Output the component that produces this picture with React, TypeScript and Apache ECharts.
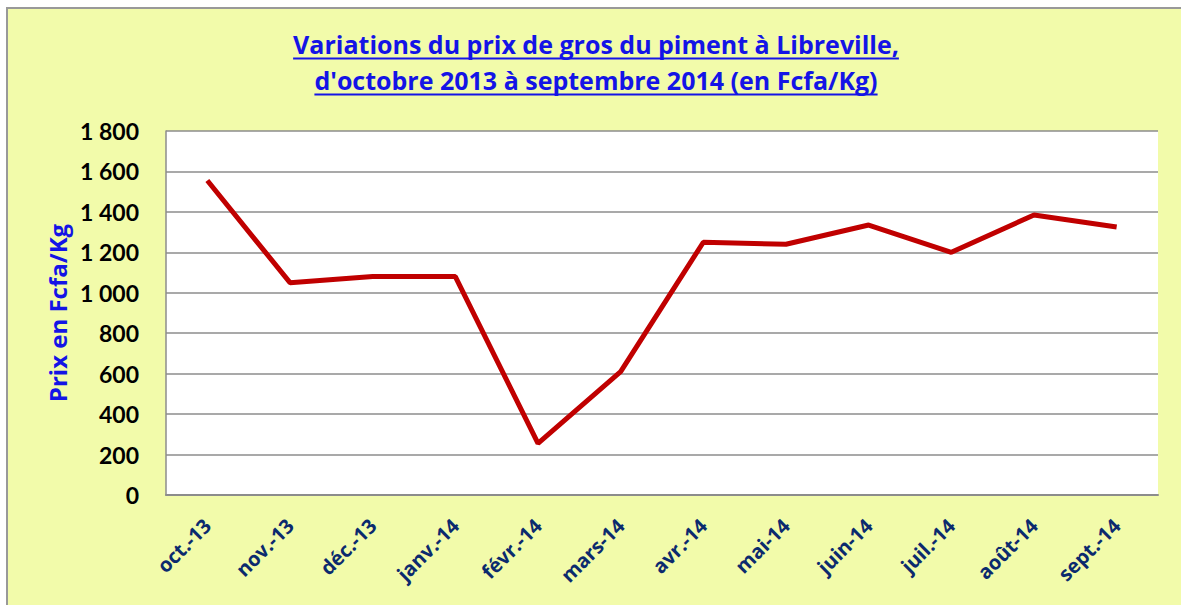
import React, { useEffect, useRef } from "react";
import * as echarts from "echarts";

const categories = ["oct.-13", "nov.-13", "déc.-13", "janv.-14", "févr.-14", "mars-14", "avr.-14", "mai-14", "juin-14", "juil.-14", "août-14", "sept.-14"];
const prices = [1555, 1050, 1080, 1080, 255, 610, 1250, 1240, 1335, 1200, 1385, 1325];
const titleLines = ["Variations du prix de gros du piment à Libreville,", "d'octobre 2013 à septembre 2014 (en Fcfa/Kg)"];
const yAxisName = "Prix en Fcfa/Kg";
const yMin = 0;
const yMax = 1800;
const yStep = 200;

const W = 1181;
const H = 605;
const TITLE_FONT = "bold 25px 'Open Sans'";
const TITLE_COLOR = "#1414E6";

function measure(text: string, font: string): number {
  const c = document.createElement("canvas");
  const ctx = c.getContext("2d");
  if (!ctx) return text.length * 12;
  ctx.font = font;
  return ctx.measureText(text).width;
}

export default function App() {
  const ref = useRef<HTMLDivElement>(null);

  useEffect(() => {
    document.body.style.margin = "0";
    if (!ref.current) return;
    const chart = echarts.init(ref.current, null, { renderer: "svg" });

    const cx = 596;
    const lineYs = [44, 80];
    const graphics: any[] = [];
    titleLines.forEach((t, i) => {
      const w = measure(t, TITLE_FONT);
      graphics.push({
        type: "text",
        x: cx,
        y: lineYs[i],
        style: {
          text: t,
          font: TITLE_FONT,
          fill: TITLE_COLOR,
          align: "center",
          verticalAlign: "middle",
        },
      });
      graphics.push({
        type: "line",
        shape: { x1: cx - w / 2, y1: lineYs[i] + 14.5, x2: cx + w / 2, y2: lineYs[i] + 14.5 },
        style: { stroke: TITLE_COLOR, lineWidth: 2 },
      });
    });

    chart.setOption({
      animation: false,
      backgroundColor: "transparent",
      graphic: graphics,
      grid: {
        left: 166,
        right: 23,
        top: 131,
        bottom: 110,
        show: true,
        backgroundColor: "#ffffff",
        borderWidth: 0,
      },
      xAxis: {
        type: "category",
        data: categories,
        boundaryGap: true,
        axisLine: { show: true, lineStyle: { color: "#8c8c8c", width: 2 } },
        axisTick: { show: false },
        axisLabel: {
          rotate: 45,
          margin: 27,
          color: "#0B2A6E",
          fontFamily: "Open Sans",
          fontWeight: "bold",
          fontSize: 20,
          interval: 0,
        },
      },
      yAxis: {
        type: "value",
        min: yMin,
        max: yMax,
        interval: yStep,
        name: yAxisName,
        nameLocation: "middle",
        nameGap: 95,
        nameRotate: 90,
        nameTextStyle: {
          color: "#1414E6",
          fontFamily: "Open Sans",
          fontWeight: "bold",
          fontSize: 24,
        },
        axisLine: { show: true, lineStyle: { color: "#8c8c8c", width: 1.5 } },
        axisTick: { show: false },
        splitLine: { show: true, lineStyle: { color: "#8c8c8c", width: 1.5 } },
        axisLabel: {
          margin: 27,
          color: "#000000",
          fontFamily: "Lato",
          fontWeight: "bold",
          fontSize: 23,
          formatter: (v: number) => String(v).replace(/\B(?=(\d{3})+(?!\d))/g, " "),
        },
      },
      series: [
        {
          type: "line",
          data: prices,
          symbol: "none",
          lineStyle: { color: "#C00000", width: 5 },
        },
      ],
    });

    return () => chart.dispose();
  }, []);

  return (
    <div style={{ position: "relative", width: W, height: H, background: "#ffffff", overflow: "hidden" }}>
      <div
        style={{
          position: "absolute",
          left: 6,
          top: 7,
          width: W,
          height: H,
          background: "#F2FBAA",
          borderLeft: "2px solid #999999",
          borderTop: "2px solid #999999",
        }}
      />
      <div ref={ref} style={{ position: "absolute", left: 0, top: 0, width: W, height: H }} />
    </div>
  );
}
